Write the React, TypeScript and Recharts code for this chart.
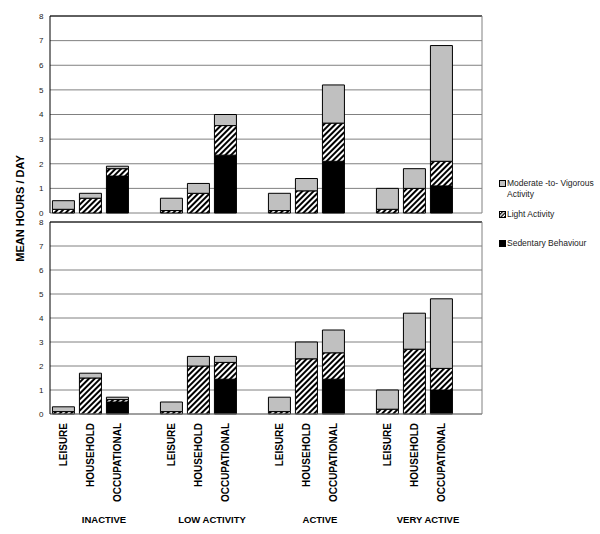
import { BarChart, Bar, XAxis, YAxis, CartesianGrid, ReferenceLine } from 'recharts'

const GROUPS = ["INACTIVE", "LOW ACTIVITY", "ACTIVE", "VERY ACTIVE"]
const CATEGORIES = ["LEISURE", "HOUSEHOLD", "OCCUPATIONAL"]
const Y_TICKS = [0, 1, 2, 3, 4, 5, 6, 7, 8]

// values per group x category (leisure, household, occupational)
const TOP_SEDENTARY = [0, 0, 1.5, 0, 0, 2.35, 0, 0, 2.1, 0, 0, 1.1]
const TOP_LIGHT = [0.15, 0.6, 0.3, 0.1, 0.8, 1.2, 0.1, 0.9, 1.55, 0.15, 1.0, 1.0]
const TOP_MVPA = [0.35, 0.2, 0.1, 0.5, 0.4, 0.45, 0.7, 0.5, 1.55, 0.85, 0.8, 4.7]

const BOTTOM_SEDENTARY = [0, 0, 0.5, 0, 0, 1.45, 0, 0, 1.45, 0, 0, 1.0]
const BOTTOM_LIGHT = [0.1, 1.5, 0.1, 0.1, 2.0, 0.7, 0.1, 2.3, 1.1, 0.2, 2.7, 0.9]
const BOTTOM_MVPA = [0.2, 0.2, 0.1, 0.4, 0.4, 0.25, 0.6, 0.7, 0.95, 0.8, 1.5, 2.9]

const FONT = '"Liberation Sans", Arial, sans-serif'
const GRAY = '#c0c0c0'
const LINE = '#808080'

function buildRows(sed: number[], light: number[], mvpa: number[]) {
    const rows: any[] = []
    GROUPS.forEach((g, gi) => {
        CATEGORIES.forEach((c, ci) => {
            const i = gi * 3 + ci
            rows.push({ key: `${g}|${c}`, group: g, sed: sed[i], light: light[i], mvpa: mvpa[i] })
        })
        // empty slot between groups
        rows.push({ key: `${g}|`, group: g, sed: null, light: null, mvpa: null })
    })
    return rows
}

const topData = buildRows(TOP_SEDENTARY, TOP_LIGHT, TOP_MVPA)
const bottomData = buildRows(BOTTOM_SEDENTARY, BOTTOM_LIGHT, BOTTOM_MVPA)

function Hatch({ id }: { id: string }) {
    return (
        <defs>
            <pattern id={id} patternUnits="userSpaceOnUse" width={4} height={4} patternTransform="rotate(45)">
                <rect x={0} y={0} width={4} height={4} fill="#fff" />
                <rect x={0} y={0} width={2} height={4} fill="#000" />
            </pattern>
        </defs>
    )
}

function CategoryTick(props: any) {
    const { x, y, payload } = props
    const label = String(payload.value).split('|')[1]
    if (!label) return null
    return (
        <text x={x} y={y} dy="0.35em" transform={`rotate(-90, ${x}, ${y})`} textAnchor="end"
            fontSize={10} fontWeight="bold" fontFamily={FONT} fill="#000">
            {label}
        </text>
    )
}

function GroupTick(props: any) {
    const { x, y, payload } = props
    return (
        <text x={x} y={y + 12.5} textAnchor="middle" fontSize={9.5} fontWeight="bold" fontFamily={FONT} fill="#000">
            {payload.value}
        </text>
    )
}

function Panel({ data, hatchId, showAxis }: { data: any[], hatchId: string, showAxis: boolean }) {
    return (
        <BarChart
            width={600}
            height={showAxis ? 328 : 222}
            data={data}
            margin={{ top: 16, right: 117, bottom: showAxis ? 0 : 9, left: 0 }}
            barCategoryGap="9%"
            barGap={0}
        >
            <Hatch id={hatchId} />
            <CartesianGrid horizontal vertical={false} stroke={LINE} strokeOpacity={1} />
            <XAxis dataKey="key" hide={!showAxis} interval={0} height={96} axisLine={{ stroke: LINE }}
                tickLine={false} tickSize={0} tickMargin={9} tick={<CategoryTick />} />
            {showAxis && (
                <XAxis xAxisId="group" dataKey="group" allowDuplicatedCategory={false} interval={0} height={24}
                    axisLine={false} tickLine={false} tickSize={0} tickMargin={0} tick={<GroupTick />} />
            )}
            <YAxis width={50} domain={[0, 8]} ticks={Y_TICKS} interval={0} axisLine={{ stroke: '#000' }}
                tickLine={false} tickSize={5} tickMargin={1.5}
                tick={{ fontSize: 8, fill: '#222', fontFamily: FONT }} />
            <YAxis yAxisId="right" orientation="right" width={1} domain={[0, 8]} tick={false} tickLine={false}
                axisLine={{ stroke: LINE }} />
            <Bar dataKey="sed" stackId="a" fill="#000" stroke="#000" strokeWidth={1} isAnimationActive={false} />
            <Bar dataKey="light" stackId="a" fill={`url(#${hatchId})`} stroke="#000" strokeWidth={1} isAnimationActive={false} />
            <Bar dataKey="mvpa" stackId="a" fill={GRAY} stroke="#000" strokeWidth={1} isAnimationActive={false} />
            <ReferenceLine y={8} stroke="#000" strokeWidth={1.2} />
        </BarChart>
    )
}

function LegendIcon({ kind }: { kind: string }) {
    return (
        <svg width={7} height={7} style={{ position: 'absolute', left: 0, top: 2 }}>
            <defs>
                <pattern id="legendHatch" patternUnits="userSpaceOnUse" width={2.5} height={2.5} patternTransform="rotate(45)">
                    <rect width={2.5} height={2.5} fill="#fff" />
                    <rect width={1.2} height={2.5} fill="#000" />
                </pattern>
            </defs>
            <rect x={0.5} y={0.5} width={6} height={6} stroke="#000" strokeWidth={1}
                fill={kind === 'mvpa' ? GRAY : kind === 'light' ? 'url(#legendHatch)' : '#000'} />
        </svg>
    )
}

const legendText = { position: 'absolute' as const, left: 8, top: 0, fontSize: 8.5, lineHeight: '11px', color: '#222', fontFamily: FONT, whiteSpace: 'nowrap' as const }

export default function App() {
    return (
        <div style={{ position: 'absolute', left: 0, top: 0, width: 600, height: 534, background: '#fff' }}>
            <div style={{ position: 'absolute', left: 0, top: 0 }}>
                <Panel data={topData} hatchId="hatchTop" showAxis={false} />
            </div>
            <div style={{ position: 'absolute', left: 0, top: 206 }}>
                <Panel data={bottomData} hatchId="hatchBottom" showAxis={true} />
            </div>
            <svg width={30} height={534} style={{ position: 'absolute', left: 0, top: 0 }}>
                <text x={20.5} y={208.5} dy="0.35em" transform="rotate(-90, 20.5, 208.5)" textAnchor="middle"
                    fontSize={11} fontWeight="bold" fontFamily={FONT} fill="#000">
                    MEAN HOURS / DAY
                </text>
            </svg>
            <div style={{ position: 'absolute', left: 499, top: 177.5 }}>
                <LegendIcon kind="mvpa" />
                <div style={legendText}>Moderate -to- Vigorous<br />Activity</div>
            </div>
            <div style={{ position: 'absolute', left: 499, top: 208.5 }}>
                <LegendIcon kind="light" />
                <div style={legendText}>Light Activity</div>
            </div>
            <div style={{ position: 'absolute', left: 499, top: 238 }}>
                <LegendIcon kind="sed" />
                <div style={legendText}>Sedentary Behaviour</div>
            </div>
        </div>
    )
}
